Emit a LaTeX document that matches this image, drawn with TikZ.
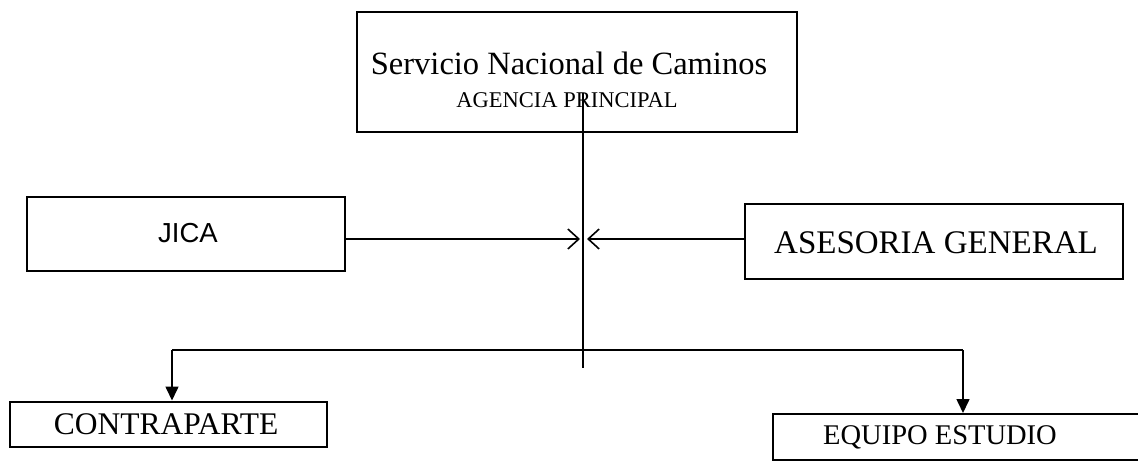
\documentclass[tikz,border=0pt]{standalone}
\usepackage{fontspec}
\setmainfont{Liberation Serif}
\newfontfamily\arialf{Liberation Sans}
\usetikzlibrary{arrows.meta}
\tikzset{
  orgbox/.style={draw=black, line width=2pt, rectangle, inner sep=0pt},
  conn/.style={draw=black, line width=1.6pt},
  openarrow/.style={conn, -{Straight Barb[length=11pt,width=20pt,line width=1.6pt]}},
  downarrow/.style={conn, -{Triangle[length=14pt,width=13pt]}},
}
\begin{document}
\begin{tikzpicture}[x=1pt,y=-1pt]
\useasboundingbox (0,0) rectangle (1138,462);
\fill[white] (0,0) rectangle (1138,462);
% boxes
\node[orgbox, minimum width=440pt, minimum height=120pt] (snc) at (577,72) {};
\node[font=\fontsize{32.5}{32.5}\selectfont, inner sep=0pt] (snct) at (569,63) {Servicio Nacional de Caminos};
\node[font=\fontsize{22.5}{22.5}\selectfont, inner sep=0pt] (agp) at (567,100) {AGENCIA PRINCIPAL};
\node[orgbox, minimum width=318pt, minimum height=74pt] (jica) at (186,234) {};
\node[font=\arialf\fontsize{27.5}{27.5}\selectfont, inner sep=0pt] (jicat) at (188,233) {JICA};
\node[orgbox, minimum width=378pt, minimum height=75pt] (ase) at (934,242) {};
\node[font=\fontsize{33}{33}\selectfont, inner sep=0pt] (aset) at (936,243) {ASESORIA GENERAL};
\node[orgbox, minimum width=317pt, minimum height=45pt] (con) at (168,424) {};
\node[font=\fontsize{31.5}{31.5}\selectfont, inner sep=0pt] (cont) at (166,424) {CONTRAPARTE};
\node[orgbox, minimum width=372pt, minimum height=46pt] (equ) at (959,437) {};
\node[font=\fontsize{28.5}{28.5}\selectfont, inner sep=0pt] (equt) at (940,437) {EQUIPO ESTUDIO};
% connector coordinates
\coordinate (vtop) at (583,93);
\coordinate (vbot) at (583,368);
\coordinate (hub) at (583,350);
\coordinate (jtip) at (580,239);
\coordinate (atip) at (587,239);
\coordinate (lcorner) at (172,350);
\coordinate (rcorner) at (963,350);
% connectors
\draw[conn] (vtop) -- (vbot);
\draw[openarrow] (jica.east |- jtip) -- (jtip);
\draw[openarrow] (ase.west |- atip) -- (atip);
\draw[conn] (hub) -- (lcorner);
\draw[conn] (hub) -- (rcorner);
\draw[downarrow] (lcorner) -- (lcorner |- con.north);
\draw[downarrow] (rcorner) -- (rcorner |- equ.north);
\end{tikzpicture}
\end{document}
